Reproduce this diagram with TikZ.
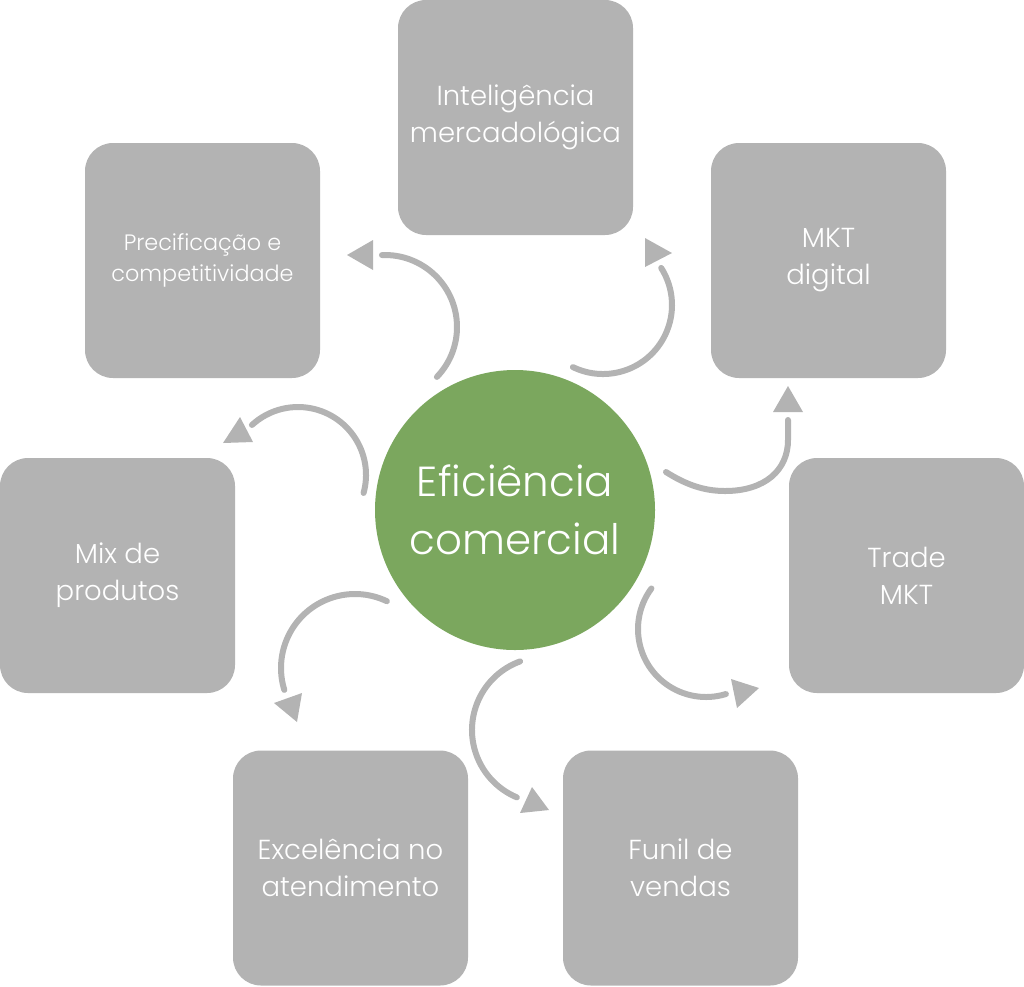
\documentclass[tikz,border=0pt]{standalone}
\usepackage{fontspec}
\setmainfont{Poppins}[UprightFont=* Light]
\definecolor{boxgray}{HTML}{B3B3B3}
\definecolor{circgreen}{HTML}{7BA75E}
\begin{document}
\begin{tikzpicture}[x=1pt,y=-1pt,
  boxnode/.style={rectangle,rounded corners=28pt,fill=boxgray,minimum width=235pt,minimum height=235pt,inner sep=0pt,text=white,align=center,font=\fontsize{27.5}{37}\selectfont},
  smalltext/.style={font=\fontsize{22.3}{31}\selectfont},
  hub/.style={circle,fill=circgreen,minimum size=280pt,inner sep=0pt,text=white,align=center,font=\fontsize{42}{58}\selectfont},
  conn/.style={draw=boxgray,line width=6pt,line cap=round},
  tipfill/.style={fill=boxgray}]
\useasboundingbox (0,0) rectangle (1024,986);
% boxes
\node[boxnode] (intel) at (515.5,117.5) {Inteligência\\mercadológica};
\node[boxnode,smalltext] (prec) at (202.5,260.5) {Precificação e\\competitividade};
\node[boxnode] (mktd) at (828.5,260.5) {MKT\\digital};
\node[boxnode] (mix) at (117.5,575.5) {Mix de\\produtos};
\node[boxnode] (trade) at (906.5,575.5) {Trade\\MKT};
\node[boxnode] (exc) at (350.5,868) {Excelência no\\atendimento};
\node[boxnode] (funil) at (680.5,868) {Funil de\\vendas};
% hub
\node[hub] (hubc) at (515,510) {Eficiência\\comercial};
% connectors
\coordinate (c1) at (385,327);
\draw[conn] (c1) ++(43.9:72) arc[start angle=43.9,end angle=-92.4,radius=72];
\fill[tipfill] (347,255) -- (373,240) -- (373,270) -- cycle;
\coordinate (c2) at (603,305);
\draw[conn] (c2) ++(115.8:69) arc[start angle=115.8,end angle=-32.5,radius=69];
\fill[tipfill] (645,238) -- (672,253) -- (645,267) -- cycle;
\coordinate (c3) at (298,475);
\draw[conn] (c3) ++(15.3:68) arc[start angle=15.3,end angle=-132.6,radius=68];
\fill[tipfill] (223,443) -- (253,442) -- (240,417) -- cycle;
\coordinate (s4) at (666,472);
\coordinate (b4) at (725,491);
\coordinate (e4) at (788,420);
\draw[conn] (s4) .. controls (685,484) and (703,491) .. (b4) .. controls (765,491) and (788,470) .. (788,440) -- (e4);
\fill[tipfill] (773,412) -- (803,412) -- (788,386) -- cycle;
\coordinate (c5) at (355,668);
\draw[conn] (c5) ++(-64.5:74) arc[start angle=-64.5,end angle=-197.2,radius=74];
\fill[tipfill] (274,703) -- (302,693) -- (297,722) -- cycle;
\coordinate (c6) at (545,730);
\draw[conn] (c6) ++(250.1:73) arc[start angle=250.1,end angle=112.7,radius=73];
\fill[tipfill] (520,813) -- (532,787) -- (549,810) -- cycle;
\coordinate (c7) at (706,629);
\draw[conn] (c7) ++(216.6:68) arc[start angle=216.6,end angle=73,radius=68];
\fill[tipfill] (731,679) -- (759,688) -- (737,708) -- cycle;
\end{tikzpicture}
\end{document}
